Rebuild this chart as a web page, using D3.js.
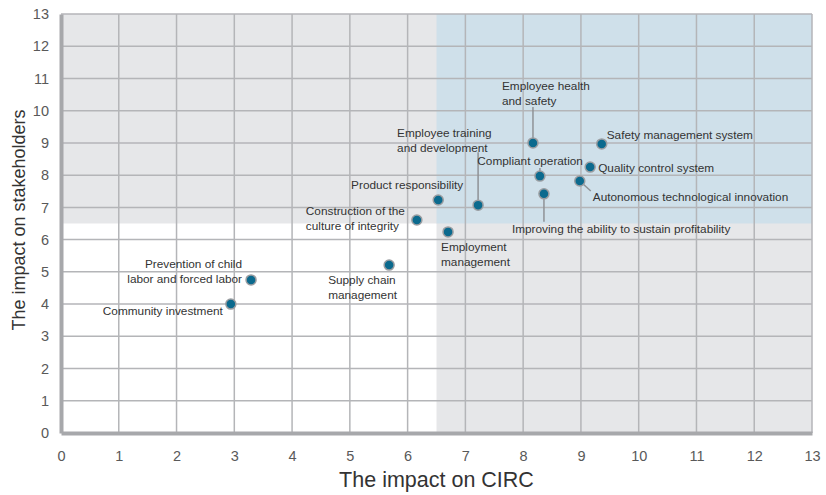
<!DOCTYPE html>
<html>
<head>
<meta charset="utf-8">
<script src="https://cdn.jsdelivr.net/npm/d3@7"></script>
<style>
  body { margin: 0; background: #fff; }
  text { font-family: "Liberation Sans", Arial, sans-serif; }
</style>
</head>
<body>
<div id="chart"></div>
<script>
// data
var topics = ["Employee health and safety", "Safety management system", "Quality control system",
  "Compliant operation", "Autonomous technological innovation", "Improving the ability to sustain profitability",
  "Employee training and development", "Product responsibility", "Construction of the culture of integrity",
  "Employment management", "Supply chain management", "Prevention of child labor and forced labor",
  "Community investment"];
var circImpact = [8.17, 9.36, 9.16, 8.29, 8.98, 8.36, 7.22, 6.53, 6.16, 6.70, 5.68, 3.29, 2.94];
var stakeImpact = [9.0, 8.97, 8.25, 7.97, 7.82, 7.42, 7.07, 7.23, 6.61, 6.24, 5.21, 4.75, 4.0];
var ticks = d3.range(0, 14);
var threshold = 6.5;

// label placement (pixel offsets from each point), kept apart from the data
var labelLines = [
  ["Employee health", "and safety"],
  ["Safety management system"],
  ["Quality control system"],
  ["Compliant operation"],
  ["Autonomous technological innovation"],
  ["Improving the ability to sustain profitability"],
  ["Employee training", "and development"],
  ["Product responsibility"],
  ["Construction of the", "culture of integrity"],
  ["Employment", "management"],
  ["Supply chain", "management"],
  ["Prevention of child", "labor and forced labor"],
  ["Community investment"]
];
var labelPos = [
  {dx: -31, dy: -57, anchor: "start", lx: 0, ly: -36},
  {dx: 5, dy: -9, anchor: "start"},
  {dx: 8, dy: 1, anchor: "start"},
  {dx: 43, dy: -15, anchor: "end", lx: 0, ly: -8},
  {dx: 13, dy: 16, anchor: "start", lx: 11, ly: 10},
  {dx: -32, dy: 35, anchor: "start", lx: 0, ly: 28},
  {dx: -81, dy: -72, anchor: "start", lx: 0, ly: -53},
  {dx: 25, dy: -15, anchor: "end"},
  {dx: -111, dy: -9, anchor: "start"},
  {dx: -7, dy: 15, anchor: "start"},
  {dx: -61, dy: 15, anchor: "start"},
  {dx: -9, dy: -16, anchor: "end"},
  {dx: -8, dy: 7, anchor: "end"}
];

var svgWidth = 826;
var svgHeight = 495;
var margin = {top: 14, right: 14, bottom: 62, left: 61};
var width = svgWidth - margin.left - margin.right;
var height = svgHeight - margin.top - margin.bottom;

var svg = d3.select("#chart")
  .append("svg")
  .attr("width", svgWidth)
  .attr("height", svgHeight);

var g = svg.append("g")
  .attr("transform", `translate(${margin.left}, ${margin.top})`);

var x = d3.scaleLinear().domain([0, 13]).range([0, width]);
var y = d3.scaleLinear().domain([0, 13]).range([height, 0]);

// background quadrants
g.append("rect")
  .attr("x", 0).attr("y", 0)
  .attr("width", width).attr("height", height)
  .attr("fill", "#e6e7e9");
g.append("rect")
  .attr("x", 0).attr("y", y(threshold))
  .attr("width", x(threshold)).attr("height", height - y(threshold))
  .attr("fill", "#ffffff");
g.append("rect")
  .attr("x", x(threshold)).attr("y", 0)
  .attr("width", width - x(threshold)).attr("height", y(threshold))
  .attr("fill", "#cfe0ea");

// grid
g.selectAll("line.vgrid")
  .data(ticks.slice(1))
  .enter().append("line")
  .attr("class", "vgrid")
  .attr("x1", d => x(d)).attr("x2", d => x(d))
  .attr("y1", 0).attr("y2", height)
  .attr("stroke", "#b4b5b8").attr("stroke-width", 1.5);
g.selectAll("line.hgrid")
  .data(ticks.slice(1))
  .enter().append("line")
  .attr("class", "hgrid")
  .attr("x1", 0).attr("x2", width)
  .attr("y1", d => y(d)).attr("y2", d => y(d))
  .attr("stroke", "#b4b5b8").attr("stroke-width", 1.5);

// axes
var xAxis = g.append("g")
  .attr("transform", `translate(0, ${height})`)
  .call(d3.axisBottom(x).tickValues(ticks).tickSize(0).tickPadding(18));
var yAxis = g.append("g")
  .call(d3.axisLeft(y).tickValues(ticks).tickSize(0).tickPadding(12));

[xAxis, yAxis].forEach(function(a) {
  a.select(".domain").attr("stroke", "#a7a8ab").attr("stroke-width", 4);
  a.selectAll("text")
    .attr("fill", "#595959")
    .style("font-size", "14.5px")
    .style("font-family", "Liberation Sans, Arial, sans-serif");
});

// axis titles
svg.append("text")
  .attr("x", margin.left + width / 2)
  .attr("y", 487)
  .attr("text-anchor", "middle")
  .attr("fill", "#333")
  .style("font-size", "21.5px")
  .text("The impact on CIRC");
svg.append("text")
  .attr("transform", `translate(25, 220) rotate(-90)`)
  .attr("text-anchor", "middle")
  .attr("fill", "#333")
  .style("font-size", "18px")
  .text("The impact on stakeholders");

// points and labels
var points = topics.map((t, i) => ({name: t, cx: x(circImpact[i]), cy: y(stakeImpact[i]), i: i}));

g.selectAll("line.leader")
  .data(points.filter(d => labelPos[d.i].lx !== undefined))
  .enter().append("line")
  .attr("class", "leader")
  .attr("x1", d => d.cx).attr("y1", d => d.cy)
  .attr("x2", d => d.cx + labelPos[d.i].lx)
  .attr("y2", d => d.cy + labelPos[d.i].ly)
  .attr("stroke", "#8f9296").attr("stroke-width", 1.5);

g.selectAll("circle")
  .data(points)
  .enter().append("circle")
  .attr("cx", d => d.cx)
  .attr("cy", d => d.cy)
  .attr("r", 5)
  .attr("fill", "#0b6a8e")
  .attr("stroke", "#9a9da1")
  .attr("stroke-width", 1.5);

var labels = g.selectAll("text.lbl")
  .data(points)
  .enter().append("text")
  .attr("class", "lbl")
  .attr("text-anchor", d => labelPos[d.i].anchor)
  .attr("fill", "#333")
  .style("font-size", "11.8px");

labels.selectAll("tspan")
  .data(d => labelLines[d.i].map((s, k) => ({s: s, k: k, p: d})))
  .enter().append("tspan")
  .attr("x", d => d.p.cx + labelPos[d.p.i].dx)
  .attr("y", d => d.p.cy + labelPos[d.p.i].dy + d.k * 14.5)
  .attr("dy", "0.35em")
  .text(d => d.s);
</script>
</body>
</html>
